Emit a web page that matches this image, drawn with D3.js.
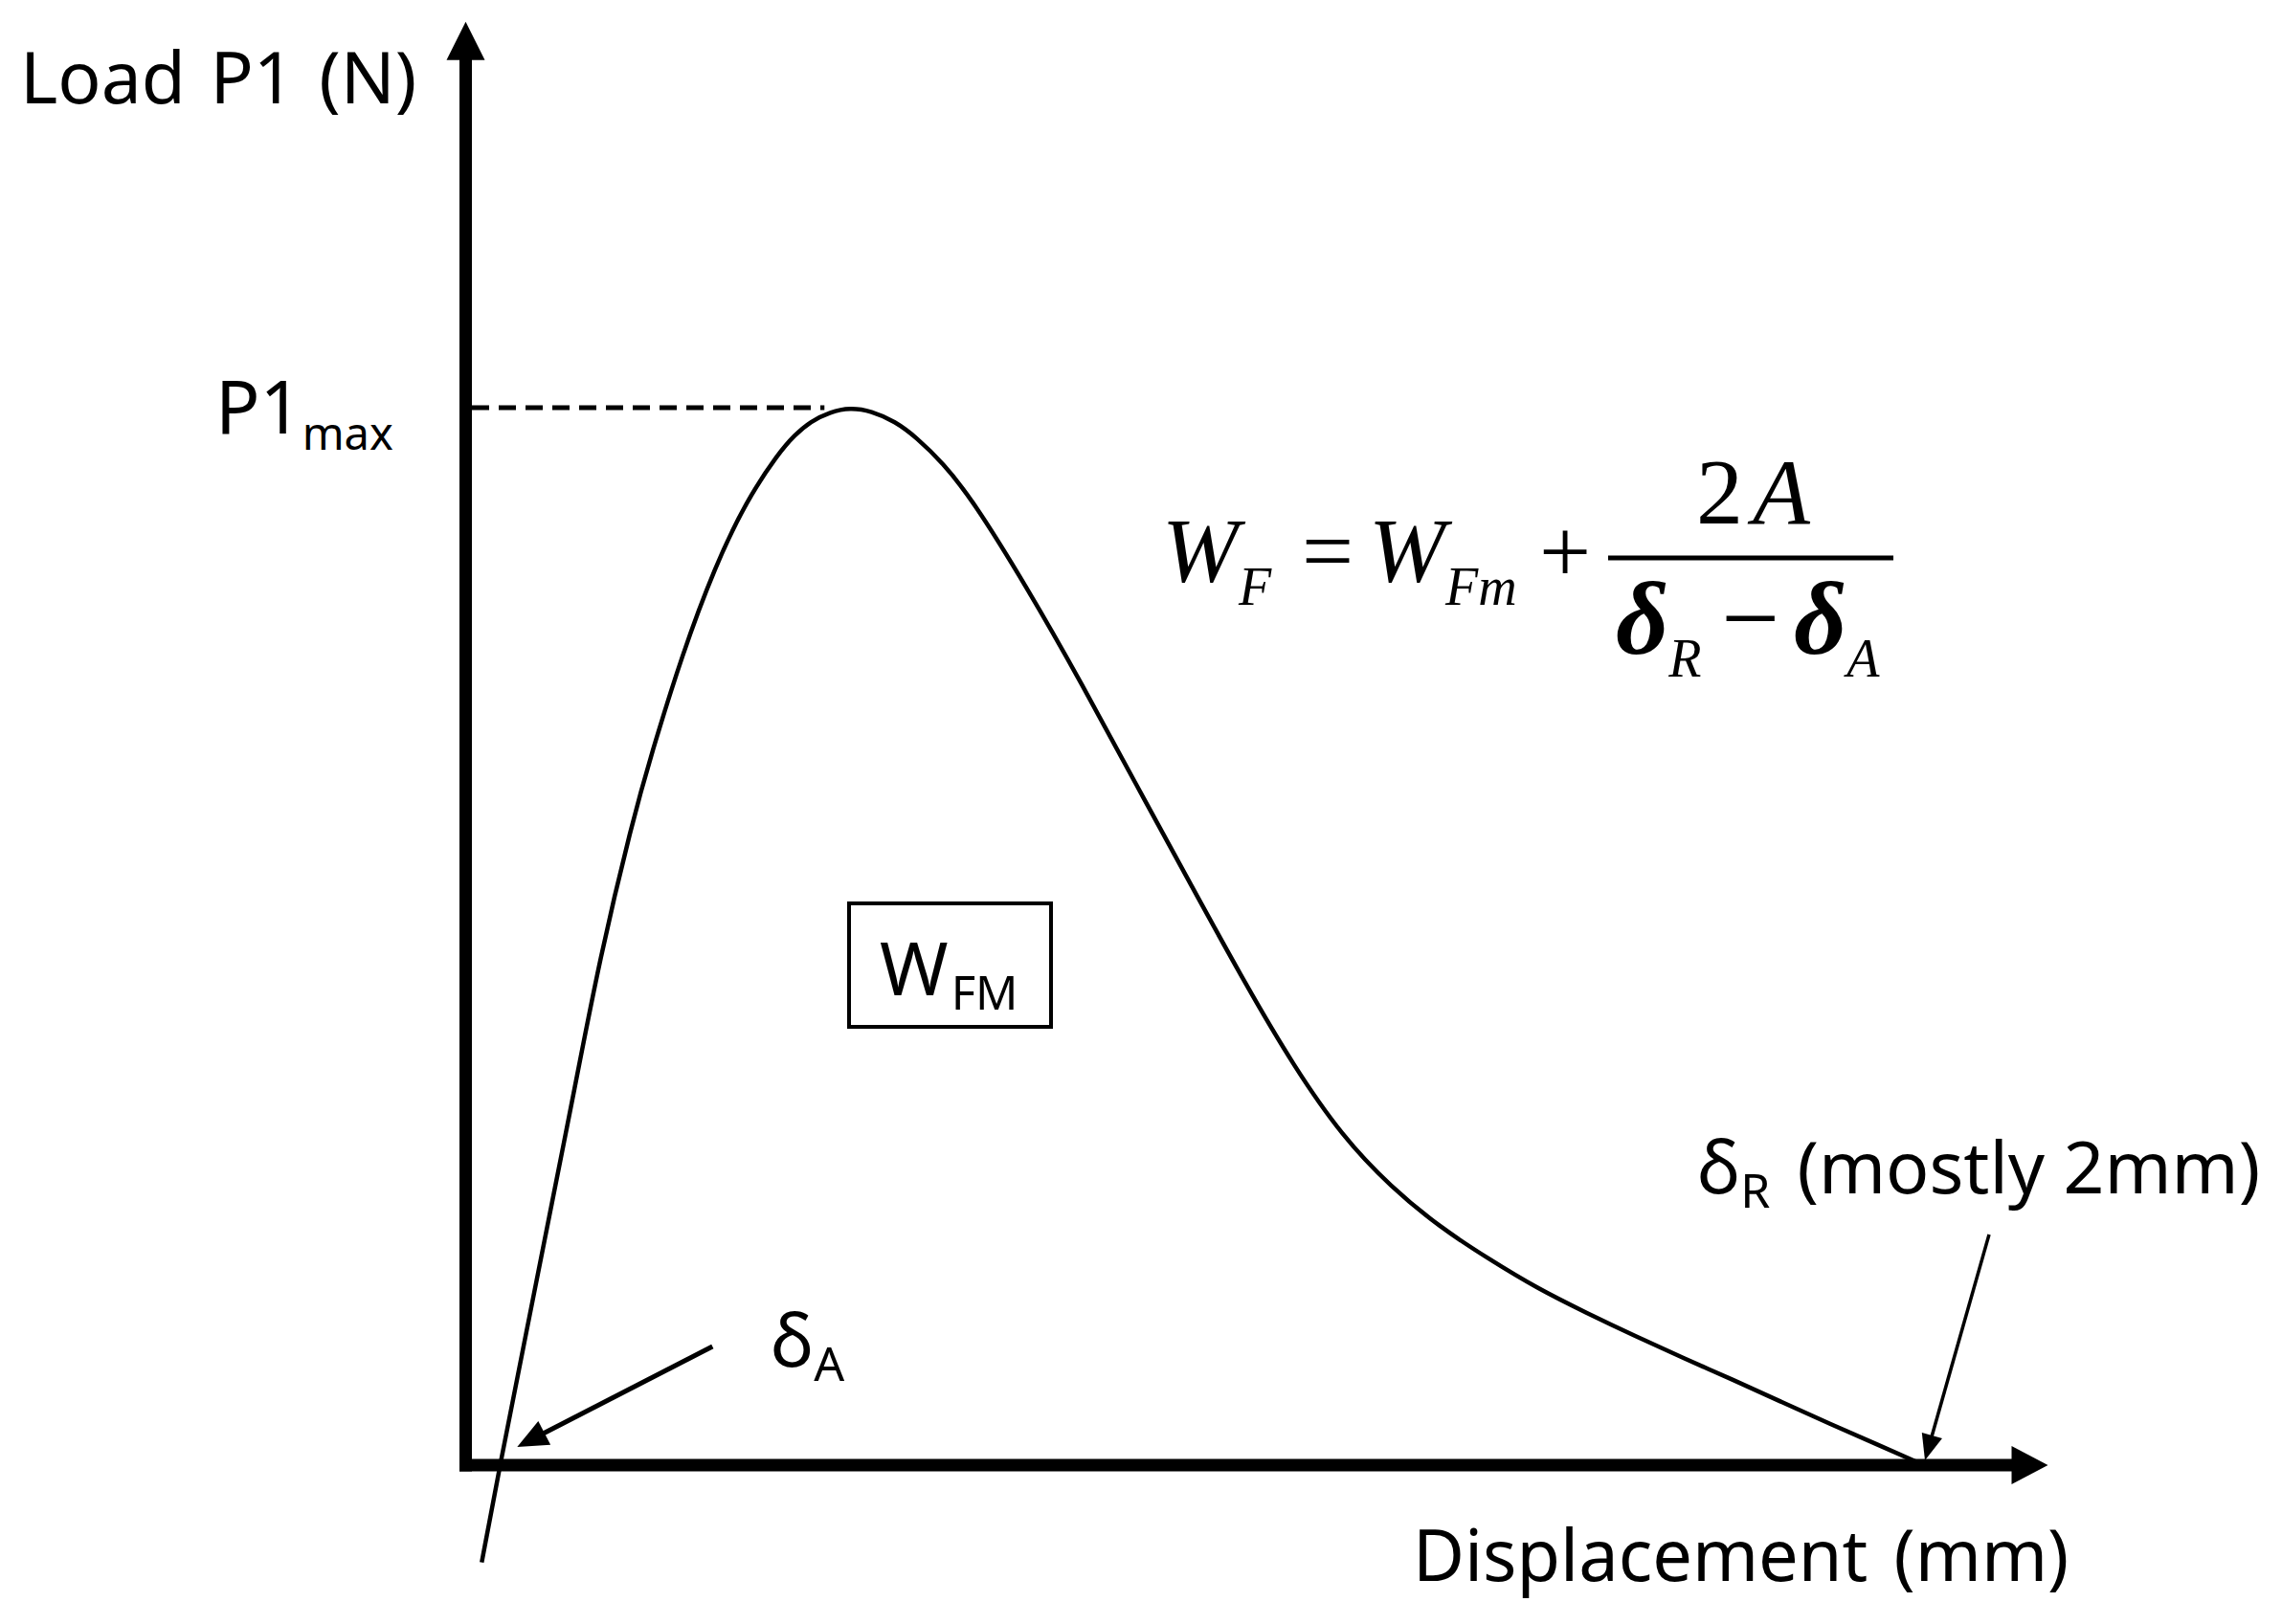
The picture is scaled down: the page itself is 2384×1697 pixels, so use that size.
<!DOCTYPE html>
<html>
<head>
<meta charset="utf-8">
<script src="https://cdn.jsdelivr.net/npm/d3@7"></script>
<style>
  body { margin: 0; background: #fff; }
  svg { display: block; }
</style>
</head>
<body>
<div class="load-chart"></div>
<script>
// displacement (mm) and load (% of P1max)
var dispMm = [0.022, 0.047, 0.083, 0.120, 0.148, 0.184, 0.228, 0.254, 0.297, 0.342,
              0.385, 0.429, 0.451, 0.473, 0.500, 0.527, 0.556, 0.589, 0.618, 0.654,
              0.694, 0.769, 0.845, 0.920, 0.996, 1.071, 1.135, 1.202, 1.269, 1.336,
              1.403, 1.470, 1.537, 1.604, 1.671, 1.737, 1.804, 1.871, 1.938, 2.000];
var loadPct = [-9.2, 0, 12.5, 25.4, 35.1, 48.0, 60.7, 67.1, 76.7, 85.0,
               91.2, 95.7, 97.4, 98.7, 99.6, 100, 99.7, 98.7, 97.2, 94.8,
               91.4, 83.1, 73.9, 64.3, 54.7, 45.3, 37.8, 31.1, 26.3, 22.5,
               19.5, 16.7, 14.4, 12.2, 10.1, 8.1, 6.0, 3.9, 1.9, 0];

// marked points on the sketch
var deltaA = 0.047, deltaR = 2.0, p1Max = 100, peakDisp = 0.527;
var xEnd = 2.17, yEnd = 136.5;

var width = 2384, height = 1697;
var sans = "'Noto Sans', 'Open Sans', sans-serif";
var serif = "'Liberation Serif', 'Times New Roman', serif";

// set the ranges
var x = d3.scaleLinear().domain([0, 2]).range([486.5, 2010]);
var y = d3.scaleLinear().domain([0, 100]).range([1531, 426]);

var svg = d3.select(".load-chart").append("svg")
    .attr("width", width)
    .attr("height", height)
    .style("background", "#fff");

// axes: thick lines with solid arrowheads, no ticks
var axisW = 13;
svg.append("line")
    .attr("x1", x(0)).attr("x2", x(0))
    .attr("y1", y(0) + axisW / 2).attr("y2", y(yEnd) + 38)
    .style("stroke", "#000").style("stroke-width", axisW);
svg.append("path")
    .attr("d", "M" + x(0) + "," + y(yEnd) + "L" + (x(0) - 20) + "," + (y(yEnd) + 40) +
               "L" + (x(0) + 20) + "," + (y(yEnd) + 40) + "Z")
    .style("fill", "#000");

svg.append("line")
    .attr("x1", x(0) - axisW / 2).attr("x2", x(xEnd) - 37)
    .attr("y1", y(0)).attr("y2", y(0))
    .style("stroke", "#000").style("stroke-width", axisW);
svg.append("path")
    .attr("d", "M" + x(xEnd) + "," + y(0) + "L" + (x(xEnd) - 38) + "," + (y(0) - 20) +
               "L" + (x(xEnd) - 38) + "," + (y(0) + 20) + "Z")
    .style("fill", "#000");

// P1max guide
svg.append("line")
    .attr("x1", x(0) + axisW / 2).attr("x2", x(peakDisp - 0.035))
    .attr("y1", y(p1Max)).attr("y2", y(p1Max))
    .style("stroke", "#000").style("stroke-width", 5)
    .style("stroke-dasharray", "18,10");

// load-displacement curve
var curve = d3.line()
    .x(function(d) { return x(d[0]); })
    .y(function(d) { return y(d[1]); })
    .curve(d3.curveBasis);

svg.append("path")
    .datum(d3.zip(dispMm, loadPct))
    .attr("d", curve)
    .style("fill", "none")
    .style("stroke", "#000")
    .style("stroke-width", 4.5);

// pointer arrows
function arrow(x1, y1, x2, y2, w, len, half) {
  var a = Math.atan2(y2 - y1, x2 - x1);
  var bx = x2 - len * Math.cos(a), by = y2 - len * Math.sin(a);
  var nx = -Math.sin(a) * half, ny = Math.cos(a) * half;
  svg.append("line")
      .attr("x1", x1).attr("y1", y1).attr("x2", bx + len * 0.2 * Math.cos(a)).attr("y2", by + len * 0.2 * Math.sin(a))
      .style("stroke", "#000").style("stroke-width", w);
  svg.append("path")
      .attr("d", "M" + x2 + "," + y2 + "L" + (bx + nx) + "," + (by + ny) + "L" + (bx - nx) + "," + (by - ny) + "Z")
      .style("fill", "#000");
}
arrow(x(deltaA) + 222, y(0) - 124, x(deltaA) + 18, y(0) - 19, 5, 32, 14);
arrow(x(deltaR) + 68, y(0) - 241, x(deltaR) + 1, y(0) - 5, 3.5, 27, 11);

// text helper: parts = [[text, size, dy, style, weight, dx]]
function label(px, py, family, parts, anchor) {
  var t = svg.append("text")
      .attr("x", px).attr("y", py)
      .style("font-family", family)
      .style("text-anchor", anchor || "start")
      .style("fill", "#000");
  parts.forEach(function(p) {
    t.append("tspan")
        .attr("dy", p[2] || 0)
        .attr("dx", p[5] || 0)
        .style("font-size", p[1] + "px")
        .style("font-style", p[3] || "normal")
        .style("font-weight", p[4] || "normal")
        .text(p[0]);
  });
  return t;
}

label(21, 108, sans, [["Load P1 (N)", 75]]).style("word-spacing", "6px");
label(225, y(p1Max) + 27, sans, [["P1", 77], ["max", 47, 17]]);
label(805, 1428, sans, [["δ", 77], ["A", 50, 15]]);
label(1773, 1247, sans, [["δ", 77], ["R", 50, 15], ["(mostly 2mm)", 75, -15, null, null, 28]]);
label(1476, 1652, sans, [["Displacement (mm)", 74]]).style("word-spacing", "8px");

// W_FM box
svg.append("rect")
    .attr("x", 887).attr("y", 944).attr("width", 211).attr("height", 129)
    .style("fill", "none").style("stroke", "#000").style("stroke-width", 4);
label(919, 1040, sans, [["W", 77], ["FM", 49, 15, null, null, 3]]);

// formula W_F = W_Fm + 2A / (δR − δA)
label(1214, 608, serif, [["W", 96, 0, "italic"], ["F", 56, 24, "italic"]]);
label(1360, 608, serif, [["=", 96]]);
label(1430, 608, serif, [["W", 96, 0, "italic"], ["Fm", 56, 24, "italic"]]);
label(1608, 608, serif, [["+", 96]]);
svg.append("line")
    .attr("x1", 1680).attr("x2", 1978).attr("y1", 583).attr("y2", 583)
    .style("stroke", "#000").style("stroke-width", 5);
label(1772, 547, serif, [["2", 98], ["A", 98, 0, "italic", null, 10]]);
label(1688, 683, serif, [["δ", 108, 0, "italic", "bold"], ["R", 56, 24, "italic"]]);
label(1798, 682, serif, [["−", 108]]);
label(1874, 683, serif, [["δ", 108, 0, "italic", "bold"], ["A", 56, 24, "italic"]]);
</script>
</body>
</html>
